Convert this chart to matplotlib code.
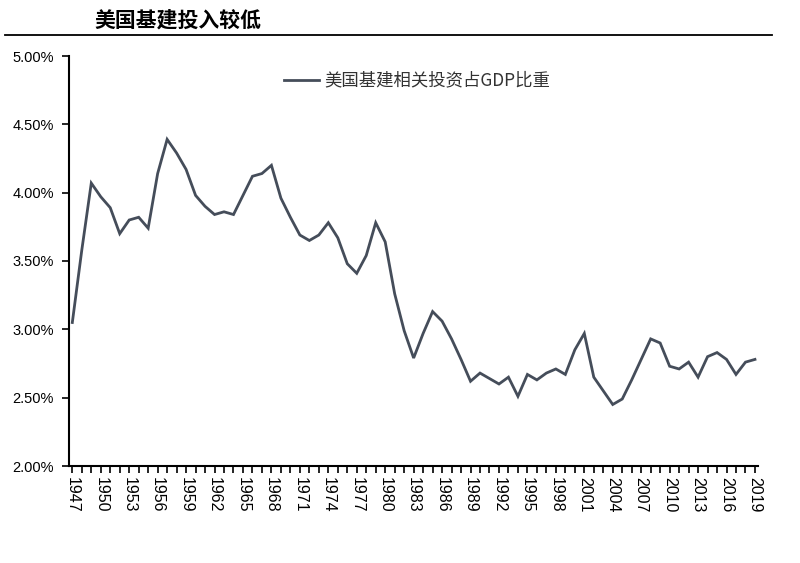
import matplotlib
matplotlib.use("Agg")
import matplotlib.pyplot as plt
from matplotlib.lines import Line2D

years = list(range(1947, 2020))
values = [3.05, 3.58, 4.07, 3.97, 3.89, 3.70, 3.80, 3.82, 3.74, 4.14,
          4.39, 4.29, 4.17, 3.98, 3.90, 3.84, 3.86, 3.84, 3.98, 4.12,
          4.14, 4.20, 3.96, 3.82, 3.69, 3.65, 3.69, 3.78, 3.67, 3.48,
          3.41, 3.54, 3.78, 3.64, 3.26, 2.99, 2.79, 2.97, 3.13, 3.06,
          2.93, 2.78, 2.62, 2.68, 2.64, 2.60, 2.65, 2.51, 2.67, 2.63,
          2.68, 2.71, 2.67, 2.85, 2.97, 2.65, 2.55, 2.45, 2.49, 2.63,
          2.78, 2.93, 2.90, 2.73, 2.71, 2.76, 2.65, 2.80, 2.83, 2.78,
          2.67, 2.76, 2.78]
yticks = [2.0, 2.5, 3.0, 3.5, 4.0, 4.5, 5.0]
title = "美国基建投入较低"
series_name = "美国基建相关投资占GDP比重"

plt.rcParams['font.family'] = ['Noto Sans CJK SC', 'DejaVu Sans']

fig = plt.figure(figsize=(8, 5.63), dpi=100)
ax = fig.add_axes([69/800, 1-466/563, (758-69)/800, (466-56)/563])

line_color = "#454d5a"
ax.plot(years, values, color=line_color, lw=2.0, solid_joinstyle='miter')

ax.set_xlim(1946.65, 2019.32)
ax.set_ylim(2.0, 5.0)
ax.set_yticks(yticks)
ax.set_yticklabels([f"{v:.2f}%" for v in yticks], family='Liberation Sans', fontsize=10.5)
ax.set_xticks(years)
ax.set_xticklabels([str(y) if (y - 1947) % 3 == 0 else "" for y in years],
                   rotation=-90, family='Liberation Sans', fontsize=11.5)
ax.tick_params(axis='both', direction='out', length=5, width=1.2, color='black')
ax.tick_params(axis='y', pad=6)
ax.tick_params(axis='x', pad=3)
for s in ['top', 'right']:
    ax.spines[s].set_visible(False)
for s in ['left', 'bottom']:
    ax.spines[s].set_linewidth(1.5)
    ax.spines[s].set_color('black')

# legend
leg = ax.legend([Line2D([0], [0], color=line_color, lw=2.0)], [series_name],
                loc='upper center', bbox_to_anchor=(0.505, 1.0), frameon=False,
                handlelength=2.0, handletextpad=0.3,
                prop={'family': ['Noto Sans CJK SC'], 'size': 12.5})
for t in leg.get_texts():
    t.set_color('#333333')

# title and rule
fig.text(94/800, 1-20/563, title, fontsize=15, fontweight='bold', va='center', ha='left', color='black')
fig.add_artist(Line2D([5/800, 772/800], [1-35/563, 1-35/563], color='black', lw=1.3))

fig.savefig("out.png", dpi=100, facecolor='white')
